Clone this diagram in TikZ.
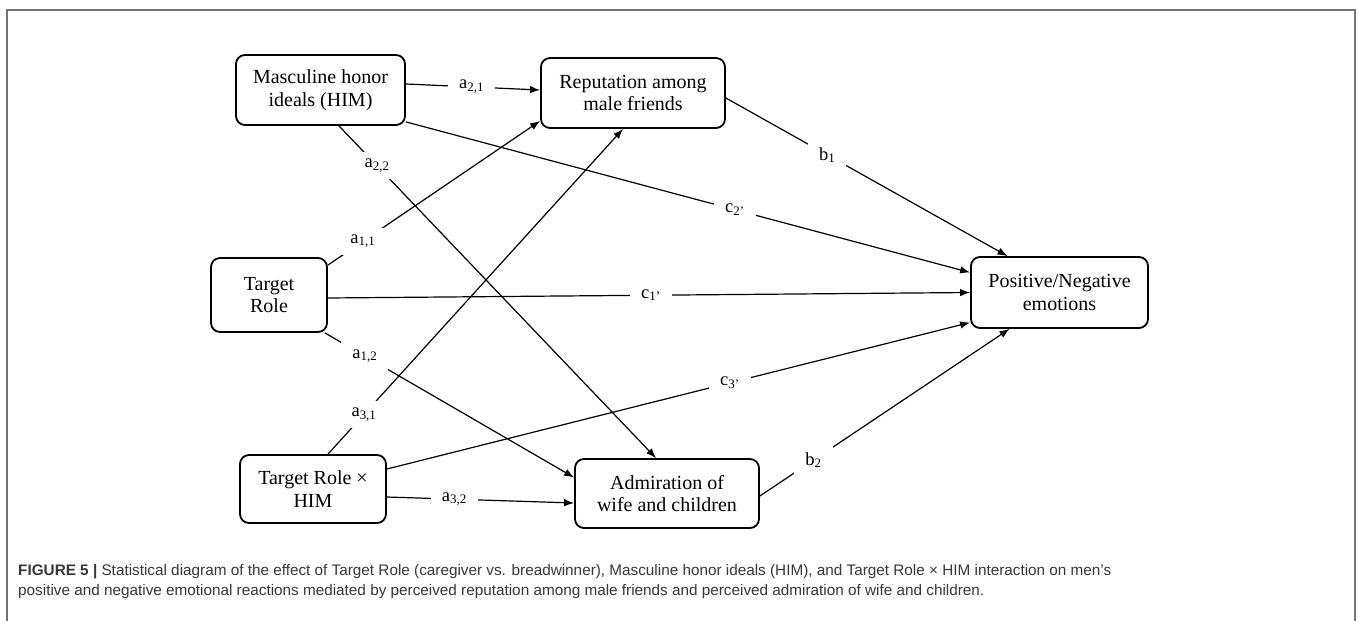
\documentclass[tikz,border=0pt]{standalone}
\usepackage{fontspec}
\setmainfont{Liberation Serif}
\newfontfamily\capfont{Liberation Sans}
\usetikzlibrary{arrows.meta}
\begin{document}
\begin{tikzpicture}[x=1pt,y=-1pt,
  box/.style={draw, line width=1.8pt, rounded corners=9pt, align=center,
    font=\fontsize{20}{22.5}\selectfont, inner sep=0pt},
  conn/.style={line width=1.2pt, -{Latex[length=10pt,width=7.5pt]}},
  lab/.style={fill=white, inner xsep=11pt, inner ysep=7pt, font=\fontsize{18.5}{20}\selectfont},
  capline/.style={anchor=west, inner sep=0pt, text=black!78,
    font=\capfont\fontsize{15.3}{18}\selectfont},
  frame/.style={draw=black!55, line width=1.4pt}]
\useasboundingbox (0,0) rectangle (1358,621);
\fill[white] (0,0) rectangle (1358,621);
\draw[frame] (7,621) -- (7,10) -- (1355,10) -- (1355,621);

\node[box, minimum width=169pt, minimum height=70pt] (mhi) at (320.5,90) {Masculine honor\\ideals (HIM)};
\node[box, minimum width=184pt, minimum height=70pt] (rep) at (633,93) {Reputation among\\male friends};
\node[box, minimum width=116pt, minimum height=74pt] (tr) at (269,295) {Target\\Role};
\node[box, minimum width=146pt, minimum height=68pt] (trh) at (313,489) {Target Role ×\\HIM};
\node[box, minimum width=184pt, minimum height=69pt] (adm) at (667,493.5) {Admiration of\\wife and children};
\node[box, minimum width=177pt, minimum height=71pt] (pne) at (1059.5,292.5) {Positive/Negative\\emotions};

% a paths
\draw[conn] ([yshift=6pt]mhi.east) -- node[lab,pos=0.49]{a\textsubscript{2,1}} ([yshift=3pt]rep.west);
\draw[conn] ([xshift=18.5pt]mhi.south) -- node[lab,pos=0.12]{a\textsubscript{2,2}} ([xshift=-11pt]adm.north);
\draw[conn] ([yshift=-8pt]tr.north east) -- node[lab,pos=0.165]{a\textsubscript{1,1}} ([yshift=8pt]rep.south west);
\draw[conn] ([xshift=-3pt]tr.south east) -- node[lab,pos=0.16]{a\textsubscript{1,2}} ([yshift=16pt]adm.west);
\draw[conn] ([xshift=15pt]trh.north) -- node[lab,pos=0.122]{a\textsubscript{3,1}} ([xshift=-10pt]rep.south);
\draw[conn] ([yshift=-8pt]trh.east) -- node[lab,pos=0.36]{a\textsubscript{3,2}} ([yshift=-9.5pt]adm.west);
% c paths
\draw[conn] ([yshift=4pt]mhi.south east) -- node[lab,pos=0.583]{c\textsubscript{2’}} ([yshift=20pt]pne.west);
\draw[conn] ([yshift=-3pt]tr.east) -- node[lab,pos=0.503]{c\textsubscript{1’}} (pne.west);
\draw[conn] ([yshift=20pt]trh.east) -- node[lab,pos=0.588]{c\textsubscript{3’}} ([yshift=-30pt]pne.west);
% b paths
\draw[conn] ([yshift=-5pt]rep.east) -- node[lab,pos=0.36]{b\textsubscript{1}} ([xshift=-52pt]pne.north);
\draw[conn] ([yshift=-2.5pt]adm.east) -- node[lab,pos=0.215]{b\textsubscript{2}} ([xshift=-50pt]pne.south);

\node[capline] (cap1) at (18,572) {\textbf{FIGURE 5 |} Statistical diagram of the effect of Target Role (caregiver vs. breadwinner), Masculine honor ideals (HIM), and Target Role × HIM interaction on men’s};
\node[capline] (cap2) at (18,592) {positive and negative emotional reactions mediated by perceived reputation among male friends and perceived admiration of wife and children.};
\end{tikzpicture}
\end{document}
